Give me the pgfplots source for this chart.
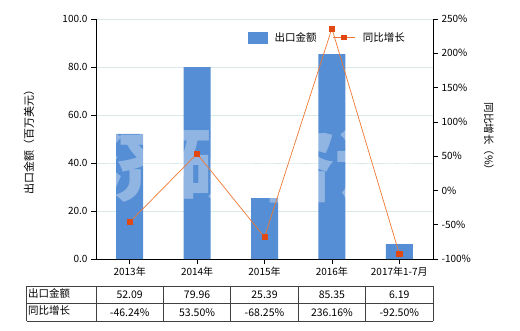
\documentclass[border=0pt]{standalone}
\usepackage{pgfplots}
\pgfplotsset{compat=1.18}
\usepackage{fontspec}
\setmainfont{Noto Sans CJK SC}
\definecolor{barblue}{RGB}{85,142,213}
\definecolor{linecol}{RGB}{238,120,50}
\definecolor{markcol}{RGB}{226,72,18}
\definecolor{gridcol}{RGB}{214,234,234}
\definecolor{tabline}{RGB}{64,64,64}
\begin{document}
\begin{tikzpicture}[x=1pt,y=1pt]
\path[use as bounding box] (0,0) rectangle (520,330);
\pgfplotsset{every axis/.append style={
  scale only axis, width=337pt, height=240pt,
  xmin=-0.5, xmax=4.5,
  /pgf/number format/assume math mode=true,
  tick label style={font=\fontsize{10}{12}\selectfont, text=black},
  label style={font=\fontsize{11}{13}\selectfont},
  tick style={black, line width=0.6pt},
  major tick length=5pt, tick align=outside,
  axis line style={black, line width=0.8pt},
}}
\begin{axis}[at={(96pt,71pt)}, anchor=south west,
  axis x line*=bottom, axis y line*=left,
  ymin=0, ymax=100, ytick={0,20,40,60,80,100},
  yticklabel style={/pgf/number format/.cd, fixed, fixed zerofill, precision=1},
  ymajorgrids, grid style={gridcol, line width=0.6pt},
  xtick={0,1,2,3,4},
  xticklabels={2013年,2014年,2015年,2016年,2017年1-7月},
  ylabel={出口金额（百万美元）},
  ylabel style={at={(axis description cs:-0.199,0.5)}, anchor=center},
  ybar, bar width=27pt,
]
\addplot[fill=barblue, draw=none, bar shift=0pt] coordinates {(0,52.09) (1,79.96) (2,25.39) (3,85.35) (4,6.19)};
\end{axis}
\node[text=white, opacity=0.35, font=\fontsize{80}{80}\selectfont\bfseries, inner sep=0pt] at (256,165) {济研咨询};
\begin{axis}[at={(96pt,71pt)}, anchor=south west,
  axis x line=none, axis y line*=right,
  ymin=-100, ymax=250, ytick={-100,-50,0,50,100,150,200,250},
  yticklabel={\pgfmathprintnumber{\tick}\%},
  ylabel={同比增长（\%）},
  ylabel style={at={(axis description cs:1.166,0.5)}, anchor=center, rotate=180, font=\fontsize{10.5}{12}\selectfont},
  legend style={at={(axis description cs:0.442,0.923)}, anchor=west, draw=none, fill=none,
    font=\fontsize{10.5}{12}\selectfont, legend columns=2,
    /tikz/every odd column/.append style={column sep=5pt},
    /tikz/every even column/.append style={column sep=14pt}},
]
\addlegendimage{legend image code/.code={\fill[barblue] (0pt,-5.5pt) rectangle (19pt,5.5pt);}}
\addlegendentry{出口金额}
\addplot[color=linecol, line width=0.7pt, mark=square*, mark size=2.6pt,
  mark options={fill=markcol, draw=markcol},
  legend image code/.code={\draw[linecol, line width=1.2pt] (0pt,0pt) -- (22pt,0pt);
    \fill[markcol] (8.5pt,-2.3pt) rectangle (13.5pt,2.3pt);}]
  coordinates {(0,-46.24) (1,53.50) (2,-68.25) (3,236.16) (4,-92.50)};
\addlegendentry{同比增长}
\end{axis}
% data table
\draw[tabline, line width=0.7pt] (26.5,44) -- (433,44) (26.5,27) -- (433,27) (26.5,9) -- (433,9);
\foreach \xx in {26.5,96,163.4,230.8,298.2,365.6,433} {\draw[tabline, line width=0.7pt] (\xx,44) -- (\xx,9);}
\begin{scope}[every node/.style={font=\fontsize{10.5}{12}\selectfont, inner sep=0pt}]
\node[anchor=west] at (28,36.5) {出口金额};
\node[anchor=west] at (28,19) {同比增长};
\foreach \v [count=\i from 0] in {52.09,79.96,25.39,85.35,6.19} {\node at (129.7+67.4*\i,35.5) {\v};}
\foreach \v [count=\i from 0] in {-46.24\%,53.50\%,-68.25\%,236.16\%,-92.50\%} {\node at (129.7+67.4*\i,17.5) {\v};}
\end{scope}
\end{tikzpicture}
\end{document}
